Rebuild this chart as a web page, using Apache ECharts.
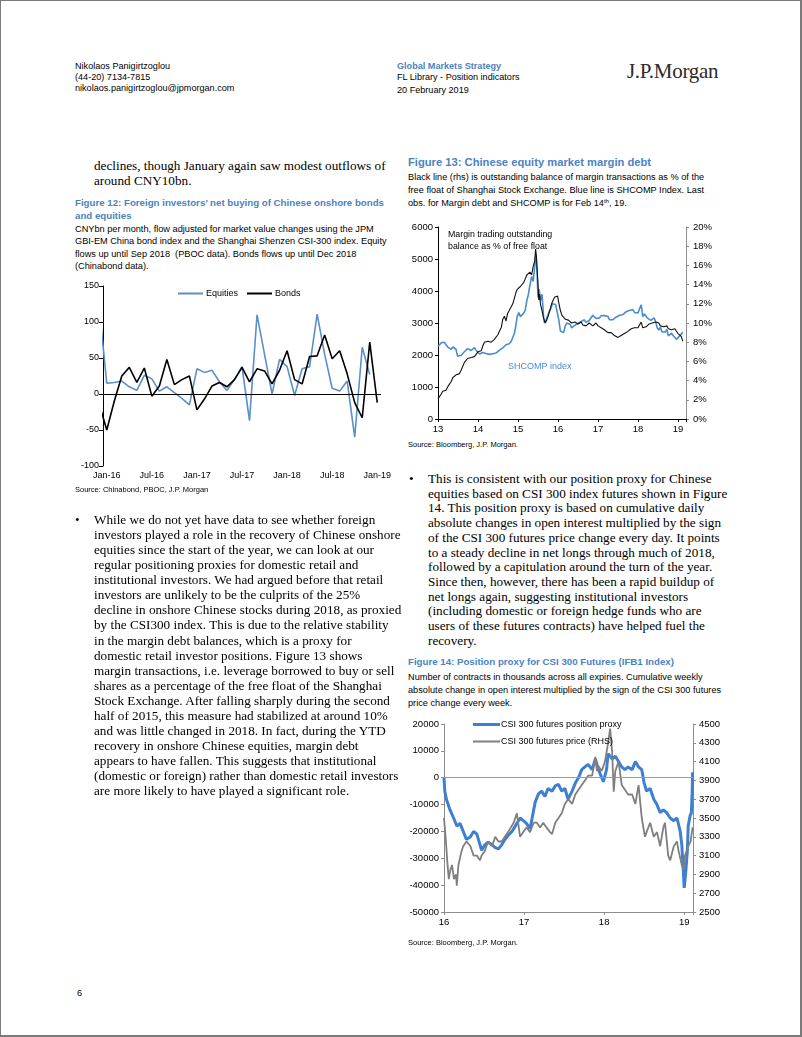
<!DOCTYPE html>
<html><head><meta charset="utf-8">
<script src="https://cdn.jsdelivr.net/npm/echarts@6.0.0/dist/echarts.min.js"></script>
<style>
html,body{margin:0;padding:0;background:#fff;}
#page{position:relative;width:802px;height:1037px;overflow:hidden;background:#fff;}
#frame{position:absolute;left:0;top:0;width:802px;height:1037px;box-sizing:border-box;border-style:solid;border-color:#7a7a7a;border-width:1px 2px 2px 1px;pointer-events:none;}
.t{position:absolute;white-space:nowrap;margin:0;}
.sans{font-family:"Liberation Sans",Arial,sans-serif;color:#000;}
.serif{font-family:"Liberation Serif","Times New Roman",serif;color:#000;}
.body{font-size:13.2px;line-height:15.06px;}
.bodyR{font-size:13.2px;line-height:14.7px;}
.ftitle{font-weight:bold;color:#4a83c3;font-size:9.7px;line-height:13px;}
.fsub{font-size:9.2px;line-height:12.4px;}
.src{font-size:7.5px;line-height:10px;}
.hdr{font-size:9.1px;line-height:11px;}
.chart{position:absolute;}
sup{font-size:6px;vertical-align:top;line-height:8px;}
</style></head>
<body>
<div id="page">
  <!-- header -->
  <div class="t sans hdr" style="left:75px;top:60.5px;">Nikolaos Panigirtzoglou<br>(44-20) 7134-7815<br>nikolaos.panigirtzoglou@jpmorgan.com</div>
  <div class="t sans hdr" style="left:397px;top:60.5px;"><span style="color:#4a83c3;font-weight:bold;">Global Markets Strategy</span><br>FL Library - Position indicators<br><span style="position:relative;top:2px;">20 February 2019</span></div>
  <div class="t serif" style="left:627px;top:59px;font-size:21px;line-height:24px;color:#2e2a28;letter-spacing:-0.3px;">J.P.Morgan</div>

  <!-- left column -->
  <div class="t serif body" style="left:94px;top:158px;">declines, though January again saw modest outflows of<br>around CNY10bn.</div>
  <div class="t sans ftitle" style="left:75px;top:195.5px;">Figure 12: Foreign investors’ net buying of Chinese onshore bonds<br>and equities</div>
  <div class="t sans fsub" style="left:75px;top:223px;">CNYbn per month, flow adjusted for market value changes using the JPM<br>GBI-EM China bond index and the Shanghai Shenzen CSI-300 index. Equity<br>flows up until Sep 2018 &nbsp;(PBOC data). Bonds flows up until Dec 2018<br>(Chinabond data).</div>
  <div id="c12" class="chart" style="left:60px;top:276px;width:340px;height:210px;"></div>
  <div class="t sans src" style="left:75px;top:485px;">Source: Chinabond, PBOC, J.P. Morgan</div>

  <div class="t serif body" style="left:75px;top:512px;">•</div>
  <div class="t serif body" style="left:94px;top:512px;">While we do not yet have data to see whether foreign<br>investors played a role in the recovery of Chinese onshore<br>equities since the start of the year, we can look at our<br>regular positioning proxies for domestic retail and<br>institutional investors. We had argued before that retail<br>investors are unlikely to be the culprits of the 25%<br>decline in onshore Chinese stocks during 2018, as proxied<br>by the CSI300 index. This is due to the relative stability<br>in the margin debt balances, which is a proxy for<br>domestic retail investor positions. Figure 13 shows<br>margin transactions, i.e. leverage borrowed to buy or sell<br>shares as a percentage of the free float of the Shanghai<br>Stock Exchange. After falling sharply during the second<br>half of 2015, this measure had stabilized at around 10%<br>and was little changed in 2018. In fact, during the YTD<br>recovery in onshore Chinese equities, margin debt<br>appears to have fallen. This suggests that institutional<br>(domestic or foreign) rather than domestic retail investors<br>are more likely to have played a significant role.</div>

  <div class="t sans" style="left:77px;top:987px;font-size:9px;line-height:12px;">6</div>

  <!-- right column -->
  <div class="t sans ftitle" style="left:408px;top:154.5px;font-size:11.2px;line-height:15px;">Figure 13: Chinese equity market margin debt</div>
  <div class="t sans fsub" style="left:408px;top:170.5px;line-height:13.2px;">Black line (rhs) is outstanding balance of margin transactions as % of the<br>free float of Shanghai Stock Exchange. Blue line is SHCOMP Index. Last<br>obs. for Margin debt and SHCOMP is for Feb 14<sup>th</sup>, 19.</div>
  <div id="c13" class="chart" style="left:400px;top:215px;width:330px;height:222px;"></div>
  <div class="t sans src" style="left:408px;top:440px;">Source: Bloomberg, J.P. Morgan.</div>

  <div class="t serif bodyR" style="left:409px;top:472px;">•</div>
  <div class="t serif bodyR" style="left:428px;top:472px;">This is consistent with our position proxy for Chinese<br>equities based on CSI 300 index futures shown in Figure<br>14. This position proxy is based on cumulative daily<br>absolute changes in open interest multiplied by the sign<br>of the CSI 300 futures price change every day. It points<br>to a steady decline in net longs through much of 2018,<br>followed by a capitulation around the turn of the year.<br>Since then, however, there has been a rapid buildup of<br>net longs again, suggesting institutional investors<br>(including domestic or foreign hedge funds who are<br>users of these futures contracts) have helped fuel the<br>recovery.</div>

  <div class="t sans ftitle" style="left:408px;top:654.5px;">Figure 14: Position proxy for CSI 300 Futures (IFB1 Index)</div>
  <div class="t sans fsub" style="left:408px;top:670.5px;line-height:13.2px;">Number of contracts in thousands across all expiries. Cumulative weekly<br>absolute change in open interest multiplied by the sign of the CSI 300 futures<br>price change every week.</div>
  <div id="c14" class="chart" style="left:400px;top:712px;width:330px;height:222px;"></div>
  <div class="t sans src" style="left:408px;top:938px;">Source: Bloomberg, J.P. Morgan.</div>

  <div id="frame"></div>
</div>
<script>
// ---------------- DATA ----------------
// Figure 12: monthly flows, CNYbn
const fig12Months = ['Jan-16','Feb-16','Mar-16','Apr-16','May-16','Jun-16','Jul-16','Aug-16','Sep-16','Oct-16','Nov-16','Dec-16',
  'Jan-17','Feb-17','Mar-17','Apr-17','May-17','Jun-17','Jul-17','Aug-17','Sep-17','Oct-17','Nov-17','Dec-17',
  'Jan-18','Feb-18','Mar-18','Apr-18','May-18','Jun-18','Jul-18','Aug-18','Sep-18','Oct-18','Nov-18','Dec-18','Jan-19'];
// first value of each is Dec-15 (clipped at the axis)
const fig12Equities = [120, 15, 16, 18, 10, 5, 26, 21, 4, 10, 2, -6, -15,
  35, 30, 33, 17, 5, 20, 38, -37, 110, 55, 0, 48,
  38, -2, 35, 38, 111, 55, 8, 4, 18, -60, 65, 27];
const fig12Bonds = [-14, -50, -10, 25, 37, 16, 36, -3, 11, 48, 13, 20, 25,
  -22, -7, 11, 16, 10, 20, 37, 17, 35, 32, 14, 33,
  60, 20, 14, 52, 53, 82, 49, 60, 28, -12, -33, 72, -12];
const fig12YTicks = [-100, 150, 50];

// Figure 13: [year (yy.fraction), value]
const fig13Shcomp = [[13.00,2270],[13.04,2310],[13.08,2380],[13.12,2430],[13.16,2400],[13.20,2320],[13.25,2240],[13.29,2200],[13.33,2180],[13.37,2250],[13.41,2300],[13.45,2180],[13.49,1960],[13.53,2000],[13.58,1990],[13.62,2040],[13.66,2100],[13.70,2090],[13.74,2200],[13.78,2170],[13.83,2140],[13.87,2200],[13.91,2230],[13.95,2150],
  [14.00,2110],[14.04,2030],[14.08,2060],[14.12,2080],[14.16,2030],[14.20,2050],[14.25,2040],[14.29,2020],[14.33,2030],[14.37,2040],[14.41,2030],[14.45,2060],[14.50,2050],[14.54,2150],[14.58,2200],[14.62,2220],[14.66,2230],[14.70,2320],[14.74,2360],[14.78,2350],[14.83,2420],[14.87,2480],[14.91,2680],[14.95,2950],[14.98,3200],
  [15.02,3330],[15.06,3200],[15.10,3250],[15.14,3300],[15.18,3400],[15.22,3690],[15.26,3900],[15.30,4200],[15.34,4450],[15.38,4300],[15.42,4800],[15.44,5100],[15.46,4950],[15.48,4500],[15.50,3800],[15.53,4050],[15.56,3700],[15.60,3900],[15.64,3200],[15.66,3000],[15.70,3100],[15.74,3050],[15.78,3350],[15.82,3450],[15.86,3600],[15.90,3550],[15.94,3580],[15.98,3540],
  [16.02,3100],[16.06,2750],[16.10,2760],[16.14,2700],[16.18,2900],[16.22,3000],[16.26,2950],[16.30,2960],[16.34,2850],[16.38,2900],[16.42,2930],[16.46,2880],[16.50,2990],[16.54,2980],[16.58,3050],[16.62,3080],[16.66,3100],[16.70,3020],[16.74,3010],[16.78,3080],[16.83,3110],[16.87,3240],[16.91,3250],[16.95,3140],
  [17.00,3140],[17.04,3160],[17.08,3230],[17.12,3250],[17.16,3230],[17.20,3260],[17.25,3200],[17.29,3100],[17.33,3080],[17.37,3100],[17.41,3140],[17.45,3180],[17.50,3210],[17.54,3240],[17.58,3250],[17.62,3260],[17.66,3280],[17.70,3350],[17.74,3360],[17.78,3390],[17.83,3380],[17.87,3420],[17.91,3330],[17.95,3290],
  [18.00,3310],[18.04,3450],[18.08,3570],[18.12,3200],[18.16,3280],[18.20,3250],[18.24,3150],[18.28,3100],[18.32,3080],[18.36,3140],[18.40,3160],[18.44,3050],[18.48,2850],[18.52,2780],[18.56,2870],[18.60,2720],[18.64,2690],[18.68,2720],[18.72,2800],[18.76,2600],[18.80,2580],[18.84,2680],[18.88,2600],[18.92,2580],[18.96,2490],
  [19.00,2480],[19.04,2590],[19.08,2620],[19.12,2710]];
const fig13Margin = [[13.00,2.1],[13.04,2.3],[13.08,2.6],[13.12,2.9],[13.16,3.1],[13.20,3.0],[13.25,3.4],[13.29,3.6],[13.33,3.9],[13.37,4.3],[13.41,4.5],[13.45,4.6],[13.49,4.4],[13.53,4.7],[13.58,5.1],[13.62,5.5],[13.66,5.9],[13.70,6.1],[13.74,6.3],[13.78,6.2],[13.83,6.4],[13.87,6.3],[13.91,6.5],[13.95,6.7],
  [14.00,7.0],[14.04,6.9],[14.08,7.1],[14.12,7.6],[14.16,8.0],[14.20,8.2],[14.25,8.1],[14.29,8.3],[14.33,8.0],[14.37,8.2],[14.41,8.3],[14.45,8.4],[14.50,8.8],[14.54,9.2],[14.58,9.5],[14.62,10.4],[14.66,10.7],[14.70,10.2],[14.74,11.0],[14.78,11.3],[14.83,11.5],[14.87,12.0],[14.91,12.6],[14.95,13.2],[14.98,13.5],
  [15.02,13.3],[15.06,13.8],[15.10,13.6],[15.14,14.2],[15.18,14.6],[15.22,15.0],[15.26,14.8],[15.30,15.3],[15.34,15.0],[15.38,15.9],[15.42,16.5],[15.44,17.7],[15.46,17.0],[15.48,15.5],[15.50,14.0],[15.52,12.4],[15.54,13.0],[15.56,12.0],[15.60,11.3],[15.64,10.5],[15.68,10.0],[15.72,10.3],[15.76,10.8],[15.80,11.4],[15.84,12.0],[15.88,12.4],[15.92,12.7],[15.96,12.5],[15.99,12.8],
  [16.02,12.1],[16.06,11.3],[16.10,10.8],[16.14,10.6],[16.18,10.4],[16.22,10.5],[16.26,10.3],[16.30,10.2],[16.34,10.0],[16.38,10.2],[16.42,10.1],[16.46,10.0],[16.50,9.9],[16.54,10.0],[16.58,10.1],[16.62,9.8],[16.66,9.9],[16.70,9.7],[16.74,9.8],[16.78,10.0],[16.83,9.9],[16.87,9.7],[16.91,9.8],[16.95,10.0],
  [17.00,9.7],[17.04,9.6],[17.08,9.5],[17.12,9.7],[17.16,9.3],[17.20,9.2],[17.25,9.0],[17.29,8.9],[17.33,9.0],[17.37,8.8],[17.41,8.7],[17.45,8.6],[17.50,8.5],[17.54,8.6],[17.58,8.7],[17.62,8.8],[17.66,8.9],[17.70,9.0],[17.74,9.1],[17.78,9.2],[17.83,9.4],[17.87,9.3],[17.91,9.5],[17.95,9.4],
  [18.00,9.5],[18.04,9.6],[18.08,10.1],[18.12,9.5],[18.16,9.7],[18.20,9.6],[18.24,9.8],[18.28,9.9],[18.32,9.8],[18.36,10.0],[18.40,9.9],[18.44,10.1],[18.48,9.9],[18.52,10.0],[18.56,9.7],[18.60,9.8],[18.64,9.6],[18.68,9.5],[18.72,9.7],[18.76,9.4],[18.80,9.6],[18.84,9.3],[18.88,9.1],[18.92,9.4],[18.96,9.2],
  [19.00,8.9],[19.04,9.0],[19.08,8.6],[19.12,8.1]];

// Figure 14: [year (yy.fraction), value]
const fig14Proxy = [[16.00,0],[16.01,-5000],[16.03,-8000],[16.075,-12000],[16.12,-15000],[16.16,-18000],[16.20,-17000],[16.24,-20000],[16.28,-23000],[16.33,-22000],[16.37,-20000],[16.41,-21000],[16.45,-25000],[16.47,-27000],[16.51,-25000],[16.55,-24000],[16.60,-25000],[16.64,-26000],[16.68,-26500],[16.72,-25000],[16.76,-23000],[16.80,-21500],[16.85,-20000],[16.91,-17000],[16.95,-15000],[16.99,-16000],
  [17.03,-17000],[17.075,-19000],[17.12,-12000],[17.14,-9000],[17.18,-6000],[17.22,-5000],[17.26,-7000],[17.30,-4000],[17.35,-5000],[17.39,-3000],[17.43,-2500],[17.47,-5000],[17.51,-4000],[17.55,-8000],[17.60,-5000],[17.64,-2000],[17.68,0],[17.72,3000],[17.76,4000],[17.80,5000],[17.85,3000],[17.89,7000],[17.93,3000],[17.97,0],[17.99,-1500],
  [18.03,3000],[18.05,9000],[18.10,7000],[18.14,8000],[18.18,6000],[18.22,4000],[18.26,3000],[18.30,4000],[18.35,3000],[18.39,6000],[18.43,4000],[18.47,3000],[18.50,-2000],[18.53,-5000],[18.575,-4000],[18.62,-8000],[18.66,-10000],[18.70,-13000],[18.74,-12000],[18.78,-13000],[18.825,-15000],[18.87,-16000],[18.91,-15000],[18.95,-20000],[18.97,-25000],[18.99,-35000],
  [19.00,-41000],[19.02,-35000],[19.04,-27000],[19.05,-18000],[19.075,-14000],[19.09,-13000],[19.10,-5000],[19.105,2000]];
const fig14Price = [[16.00,3500],[16.02,3300],[16.04,3050],[16.06,2850],[16.08,2950],[16.10,3000],[16.125,2850],[16.15,2900],[16.16,2780],[16.18,3000],[16.22,3150],[16.24,3200],[16.28,3250],[16.33,3200],[16.37,3100],[16.41,3100],[16.45,3050],[16.47,3100],[16.51,3150],[16.55,3250],[16.60,3200],[16.64,3300],[16.68,3250],[16.72,3250],[16.76,3300],[16.80,3350],[16.87,3450],[16.91,3550],[16.95,3300],[16.99,3350],
  [17.03,3400],[17.075,3350],[17.12,3450],[17.16,3450],[17.20,3400],[17.24,3450],[17.28,3400],[17.325,3350],[17.35,3330],[17.39,3450],[17.43,3500],[17.47,3550],[17.51,3650],[17.55,3700],[17.60,3650],[17.64,3750],[17.68,3800],[17.72,3850],[17.76,3900],[17.80,3950],[17.85,3950],[17.89,4150],[17.91,4000],[17.93,4050],[17.97,4000],
  [18.01,4100],[18.05,4300],[18.075,4450],[18.10,4200],[18.12,3780],[18.14,4000],[18.18,4100],[18.22,3850],[18.26,3800],[18.30,3750],[18.35,3750],[18.39,3650],[18.43,3850],[18.47,3500],[18.51,3300],[18.53,3350],[18.575,3450],[18.62,3300],[18.66,3350],[18.70,3200],[18.74,3400],[18.76,3450],[18.80,3100],[18.825,3050],[18.87,3200],[18.91,3250],[18.93,3150],[18.97,3000],[18.99,2950],
  [19.01,3100],[19.05,3200],[19.08,3250],[19.105,3400]];

// ---------------- CHARTS ----------------
const SANS = '"Liberation Sans", Arial, sans-serif';
const lbl = (extra) => Object.assign({fontFamily: SANS, fontSize: 9, color: '#000'}, extra || {});
const plain = v => String(v);

// Figure 12
const c12 = echarts.init(document.getElementById('c12'));
const eqPairs = fig12Equities.map((v, i) => [i - 1, v]);
const bdPairs = fig12Bonds.map((v, i) => [i - 1, v]);
c12.setOption({
  animation: false,
  grid: {left: 43, right: 19, top: 10, bottom: 20, outerBoundsMode: 'none', containLabel: false},
  legend: {left: 118, top: 13, itemWidth: 25, itemHeight: 2, itemGap: 9, padding: 0,
    textStyle: lbl({padding: [0, 0, 0, -2]}),
    data: [{name: 'Equities', icon: 'rect'}, {name: 'Bonds', icon: 'rect'}]},
  xAxis: [
    {type: 'value', min: -0.5, max: fig12Months.length - 0.5, show: false},
    {type: 'category', data: fig12Months, boundaryGap: true, position: 'bottom',
      axisLine: {show: false, onZero: false}, axisTick: {show: false}, splitLine: {show: false},
      axisLabel: lbl({interval: 5, margin: 5})}
  ],
  yAxis: {type: 'value', min: fig12YTicks[0], max: fig12YTicks[1], interval: fig12YTicks[2],
    axisLine: {show: true, onZero: false, lineStyle: {color: '#000', width: 1}},
    axisTick: {show: true, length: 4, lineStyle: {color: '#000'}},
    axisLabel: lbl({margin: 4, formatter: plain}), splitLine: {show: false}},
  series: [
    {name: 'Equities', type: 'line', xAxisIndex: 0, data: eqPairs, symbol: 'none', clip: true,
      lineStyle: {color: '#5b8fc9', width: 1.6}, itemStyle: {color: '#5b8fc9'}},
    {name: 'Bonds', type: 'line', xAxisIndex: 0, data: bdPairs, symbol: 'none', clip: true,
      lineStyle: {color: '#000', width: 1.6}, itemStyle: {color: '#000'},
      markLine: {silent: true, symbol: 'none', label: {show: false},
        lineStyle: {color: '#000', width: 1, type: 'solid'}, data: [{yAxis: 0}]}}
  ]
});

// Figure 13
const c13 = echarts.init(document.getElementById('c13'));
c13.setOption({
  animation: false,
  grid: {left: 38, right: 44, top: 12, bottom: 18, outerBoundsMode: 'none', containLabel: false},
  xAxis: {type: 'value', min: 13, max: 19.2, interval: 1,
    axisLine: {onZero: false, lineStyle: {color: '#000', width: 1}},
    axisTick: {show: true, length: 3, lineStyle: {color: '#000'}},
    axisLabel: lbl({margin: 5, fontSize: 9.5, formatter: v => Number.isInteger(v) ? String(v) : ''}),
    splitLine: {show: false}},
  yAxis: [
    {type: 'value', min: 0, max: 6000, interval: 1000,
      axisLine: {show: true, onZero: false, lineStyle: {color: '#000', width: 1}},
      axisTick: {show: true, length: 3, lineStyle: {color: '#000'}},
      axisLabel: lbl({margin: 5, fontSize: 9.5, formatter: plain}), splitLine: {show: false}},
    {type: 'value', min: 0, max: 20, interval: 2, position: 'right',
      axisLine: {show: true, onZero: false, lineStyle: {color: '#8c8c8c', width: 1}},
      axisTick: {show: true, length: 3, lineStyle: {color: '#8c8c8c'}},
      axisLabel: lbl({margin: 7, fontSize: 9.5, formatter: v => v + '%'}), splitLine: {show: false}}
  ],
  graphic: [
    {type: 'text', left: 48, top: 14, style: {text: 'Margin trading outstanding\nbalance as % of free float',
      fontFamily: SANS, fontSize: 8.8, lineHeight: 12, fill: '#000'}},
    {type: 'text', left: 108, top: 147, style: {text: 'SHCOMP index', fontFamily: SANS, fontSize: 9, fill: '#4b8bd0'}}
  ],
  series: [
    {name: 'SHCOMP', type: 'line', yAxisIndex: 0, data: fig13Shcomp, symbol: 'none',
      lineStyle: {color: '#4b8bd0', width: 1.6}},
    {name: 'Margin', type: 'line', yAxisIndex: 1, data: fig13Margin, symbol: 'none',
      lineStyle: {color: '#111', width: 1.1}}
  ]
});

// Figure 14
const c14 = echarts.init(document.getElementById('c14'));
c14.setOption({
  animation: false,
  grid: {left: 44, right: 37, top: 12, bottom: 22, outerBoundsMode: 'none', containLabel: false},
  legend: [
    {left: 73, top: 8, itemWidth: 27, itemHeight: 3, padding: 0,
      textStyle: lbl({padding: [0, 0, 0, -4]}),
      data: [{name: 'CSI 300 futures position proxy', icon: 'rect'}]},
    {left: 73, top: 25, itemWidth: 27, itemHeight: 2, padding: 0,
      textStyle: lbl({padding: [0, 0, 0, -4]}),
      data: [{name: 'CSI 300 futures price (RHS)', icon: 'rect'}]}
  ],
  xAxis: {type: 'value', min: 16, max: 19.11, interval: 1,
    axisLine: {onZero: false, lineStyle: {color: '#8c8c8c', width: 1}},
    axisTick: {show: true, length: 3, lineStyle: {color: '#8c8c8c'}},
    axisLabel: lbl({margin: 5, fontSize: 9.5, formatter: v => Number.isInteger(v) ? String(v) : ''}),
    splitLine: {show: false}},
  yAxis: [
    {type: 'value', min: -50000, max: 20000, interval: 10000,
      axisLine: {show: true, onZero: false, lineStyle: {color: '#8c8c8c', width: 1}},
      axisTick: {show: true, length: 3, lineStyle: {color: '#8c8c8c'}},
      axisLabel: lbl({margin: 5, fontSize: 9.5, formatter: plain}), splitLine: {show: false}},
    {type: 'value', min: 2500, max: 4500, interval: 200, position: 'right',
      axisLine: {show: true, onZero: false, lineStyle: {color: '#8c8c8c', width: 1}},
      axisTick: {show: true, length: 3, lineStyle: {color: '#8c8c8c'}},
      axisLabel: lbl({margin: 6, fontSize: 9.5, formatter: plain}), splitLine: {show: false}}
  ],
  series: [
    {name: 'CSI 300 futures position proxy', type: 'line', yAxisIndex: 0, data: fig14Proxy, symbol: 'none',
      lineStyle: {color: '#3f7fd2', width: 3}, itemStyle: {color: '#3f7fd2'},
      markLine: {silent: true, symbol: 'none', label: {show: false},
        lineStyle: {color: '#9a9a9a', width: 1, type: 'solid'}, data: [{yAxis: 0}]}},
    {name: 'CSI 300 futures price (RHS)', type: 'line', yAxisIndex: 1, data: fig14Price, symbol: 'none',
      lineStyle: {color: '#7f7f7f', width: 1.8}, itemStyle: {color: '#7f7f7f'}}
  ]
});
</script>
</body></html>
